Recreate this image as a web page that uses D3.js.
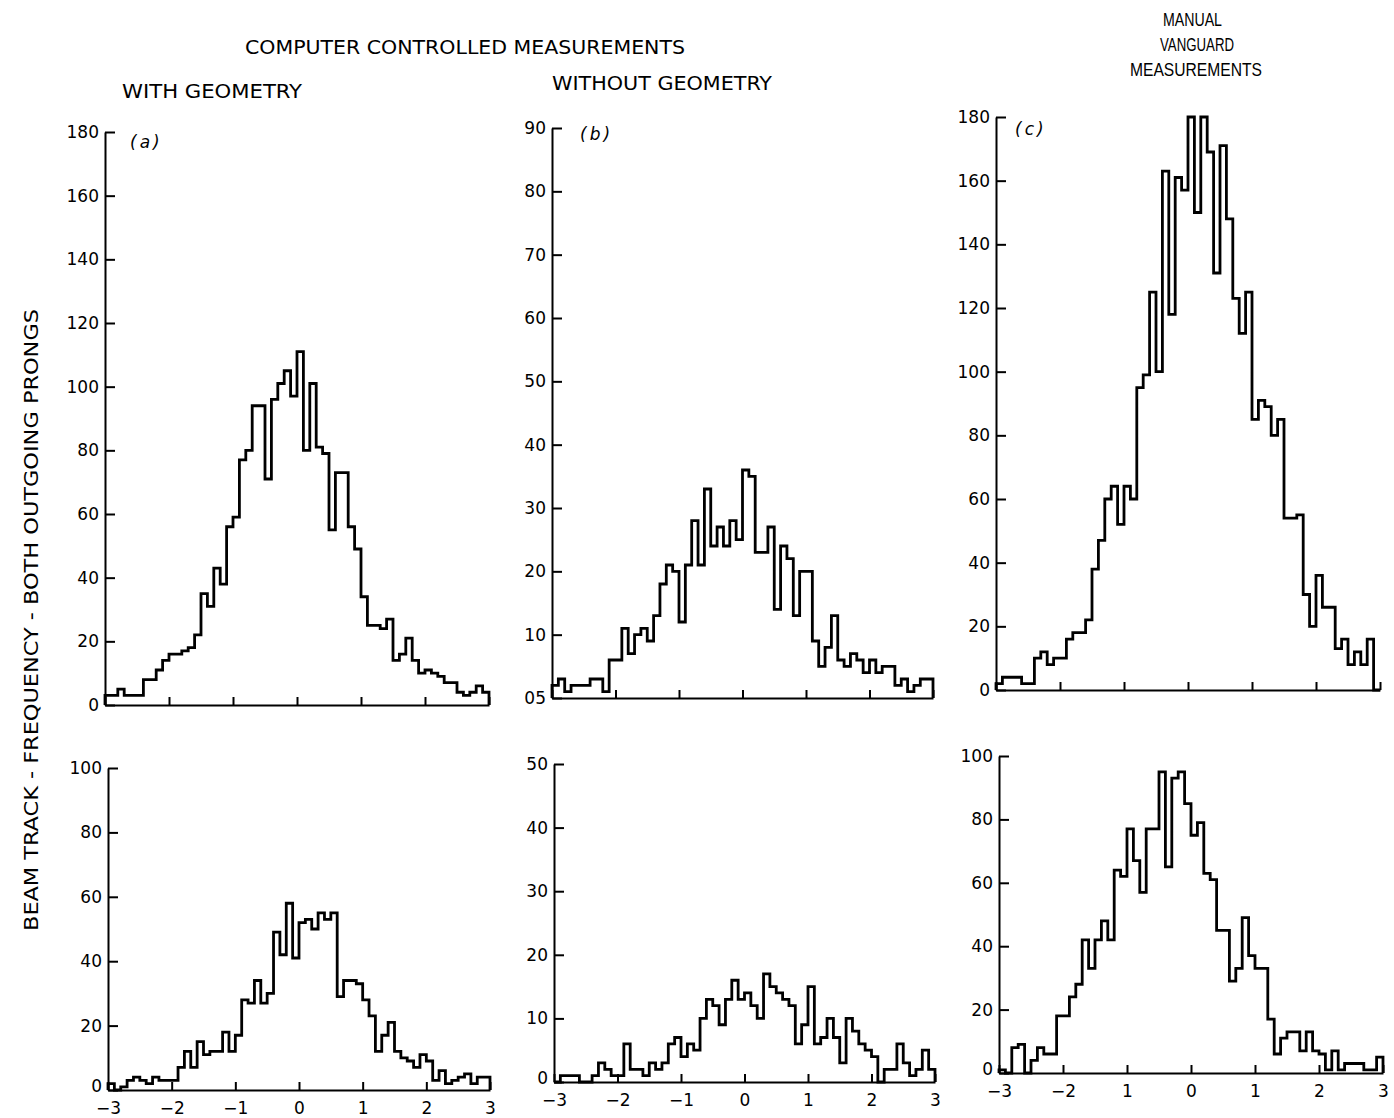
<!DOCTYPE html>
<html><head><meta charset="utf-8">
<script src="https://cdn.jsdelivr.net/npm/d3@7"></script>
<style>
html,body{margin:0;padding:0;background:#fff;}
svg{display:block;}
</style></head><body>
<svg id="chart" width="1394" height="1118"></svg>
<script>
// ---- data: counts per bin (60 bins of width 0.1 from -3 to 3) ----
const aTop = [3,3,5,3,3,3,8,8,11,14,16,16,17,18,22,35,31,43,38,56,59,77,80,94,94,71,96,101,105,97,111,80,101,81,79,55,73,73,56,49,34,25,25,24,27,14,16,21,14,10,11,10,9,7,7,4,3,4,6,4];
const bTop = [2,3,1,2,2,2,3,3,1,6,6,11,7,10,11,9,13,18,21,20,12,21,28,21,33,24,27,24,28,25,36,35,23,23,27,14,24,22,13,20,20,9,5,8,13,6,5,7,6,4,6,4,5,5,2,3,1,2,3,3];
const cTop = [2,4,4,4,2,2,10,12,8,10,10,16,18,18,22,38,47,60,64,52,64,60,95,99,125,100,163,118,161,157,180,150,180,169,131,171,148,123,112,125,85,91,89,80,85,54,54,55,30,20,36,26,26,13,16,8,12,8,16,0];
const aBot = [2,0,1,3,4,3,2,4,3,3,3,7,12,7,15,11,12,12,18,12,17,28,27,34,27,30,49,42,58,41,52,53,50,55,53,55,29,34,34,33,28,23,12,17,21,12,10,9,7,11,9,3,6,2,3,4,5,2,4,4];
const bBot = [0,1,1,1,0,0,1,3,2,1,1,6,2,2,1,3,2,3,6,7,4,6,5,10,13,12,9,13,16,13,14,12,10,17,15,14,13,12,6,9,15,6,7,10,7,3,10,8,6,5,4,0,2,2,6,3,1,2,5,2];
const cBot = [1,0,8,9,0,4,8,6,6,18,18,24,28,42,33,42,48,42,64,62,77,67,57,77,77,95,65,93,95,85,75,79,63,61,45,45,29,33,49,37,33,33,17,6,11,13,13,7,13,7,6,1,7,1,3,3,3,1,1,5];

const binStart = -3;
const binWidth = 0.1;

// ---- tick values and labels ----
const xTicks = [-3,-2,-1,0,1,2,3];
const xTickLabels = ["\u22123","\u22122","\u22121","0","1","2","3"];
const xTickLabelsC = ["\u22123","\u22122","1","0","1","2","3"];
const yTicks180 = [0,20,40,60,80,100,120,140,160,180];
const yTicks90 = [0,10,20,30,40,50,60,70,80,90];
const yTickLabels90 = ["05","10","20","30","40","50","60","70","80","90"];
const yTicks100 = [0,20,40,60,80,100];
const yTicks50 = [0,10,20,30,40,50];

const headerMain = "COMPUTER CONTROLLED MEASUREMENTS";
const headerA = "WITH GEOMETRY";
const headerB = "WITHOUT GEOMETRY";
const headerC = ["MANUAL","VANGUARD","MEASUREMENTS"];
const yTitle = "BEAM TRACK - FREQUENCY - BOTH OUTGOING PRONGS";
const tags = ["(a)","(b)","(c)"];

// ---- layout ----
const panels = [
  {values:aTop, left:105, right:489, bottom:705, top:132, ymax:180, yticks:yTicks180, ylabels:null, xlabels:null, tag:tags[0], tagX:130, tagY:148},
  {values:bTop, left:552, right:933, bottom:698, top:128, ymax:90,  yticks:yTicks90,  ylabels:yTickLabels90, xlabels:null, tag:tags[1], tagX:580, tagY:140},
  {values:cTop, left:996, right:1380, bottom:690, top:117, ymax:180, yticks:yTicks180, ylabels:null, xlabels:null, tag:tags[2], tagX:1015, tagY:135},
  {values:aBot, left:108, right:490, bottom:1090, top:768, ymax:100, yticks:yTicks100, ylabels:null, xlabels:xTickLabels},
  {values:bBot, left:554, right:935, bottom:1082, top:764, ymax:50,  yticks:yTicks50,  ylabels:null, xlabels:xTickLabels},
  {values:cBot, left:999, right:1383, bottom:1073, top:756, ymax:100, yticks:yTicks100, ylabels:null, xlabels:xTickLabelsC}
];

const tickFont = "'DejaVu Sans', sans-serif";
const headFont = "'Liberation Sans Narrow', 'DejaVu Sans Condensed', 'Liberation Sans', sans-serif";
const headFontC = "'Liberation Sans', Arial, sans-serif";

const svg = d3.select("#chart");
svg.append("rect").attr("width",1394).attr("height",1118).attr("fill","#fff");

panels.forEach(p => {
  const x = d3.scaleLinear().domain([-3,3]).range([p.left,p.right]);
  const y = d3.scaleLinear().domain([0,p.ymax]).range([p.bottom,p.top]);
  const g = svg.append("g");

  const ya = d3.axisLeft(y).tickValues(p.yticks).tickSize(-10).tickSizeOuter(0).tickPadding(6)
    .tickFormat((d,i) => p.ylabels ? p.ylabels[i] : String(d));
  const yg = g.append("g").attr("transform",`translate(${p.left},0)`).call(ya);
  yg.selectAll(".tick text").filter(d => d === 0 && p.xlabels).attr("dy","0.1em");

  const xa = d3.axisBottom(x).tickValues(xTicks).tickSize(-8).tickSizeOuter(0).tickPadding(12)
    .tickFormat((d,i) => p.xlabels ? p.xlabels[i] : "");
  const xg = g.append("g").attr("transform",`translate(0,${p.bottom})`).call(xa);

  [yg,xg].forEach(a => {
    a.attr("font-family",tickFont).attr("font-size",17);
    a.selectAll("path,line").attr("stroke","#000").attr("stroke-width",2);
    a.selectAll("text").attr("fill","#000");
  });

  const last = p.values[p.values.length-1];
  const pts = [[binStart,0]]
    .concat(p.values.map((v,i) => [binStart + i*binWidth, v]))
    .concat([[binStart + p.values.length*binWidth, last],[binStart + p.values.length*binWidth, 0]]);
  const line = d3.line().x(d => x(d[0])).y(d => y(d[1])).curve(d3.curveStepAfter);
  g.append("path").attr("d", line(pts)).attr("fill","none").attr("stroke","#000")
    .attr("stroke-width",2.8).attr("stroke-linejoin","miter");

  if (p.tag) {
    g.append("text").attr("x",p.tagX).attr("y",p.tagY).text(p.tag)
      .attr("font-family",tickFont).attr("font-style","italic").attr("font-size",17)
      .attr("letter-spacing",3).attr("fill","#000");
  }
});

function head(txt, x, y, len, font, size) {
  svg.append("text").attr("x",x).attr("y",y).text(txt)
    .attr("font-family",font).attr("font-size",size).attr("fill","#000")
    .attr("textLength",len).attr("lengthAdjust","spacingAndGlyphs");
}
head(headerMain, 245, 54, 440, headFont, 20);
head(headerA, 122, 98, 180, headFont, 20);
head(headerB, 552, 90, 220, headFont, 20);
head(headerC[0], 1163, 26, 59, headFontC, 19);
head(headerC[1], 1160, 51, 74, headFontC, 19);
head(headerC[2], 1130, 76, 132, headFontC, 19);

svg.append("text").attr("transform","translate(38,620) rotate(-90)")
  .attr("text-anchor","middle").text(yTitle)
  .attr("font-family",headFont).attr("font-size",20).attr("fill","#000")
  .attr("textLength",622).attr("lengthAdjust","spacingAndGlyphs");
</script>
</body></html>
